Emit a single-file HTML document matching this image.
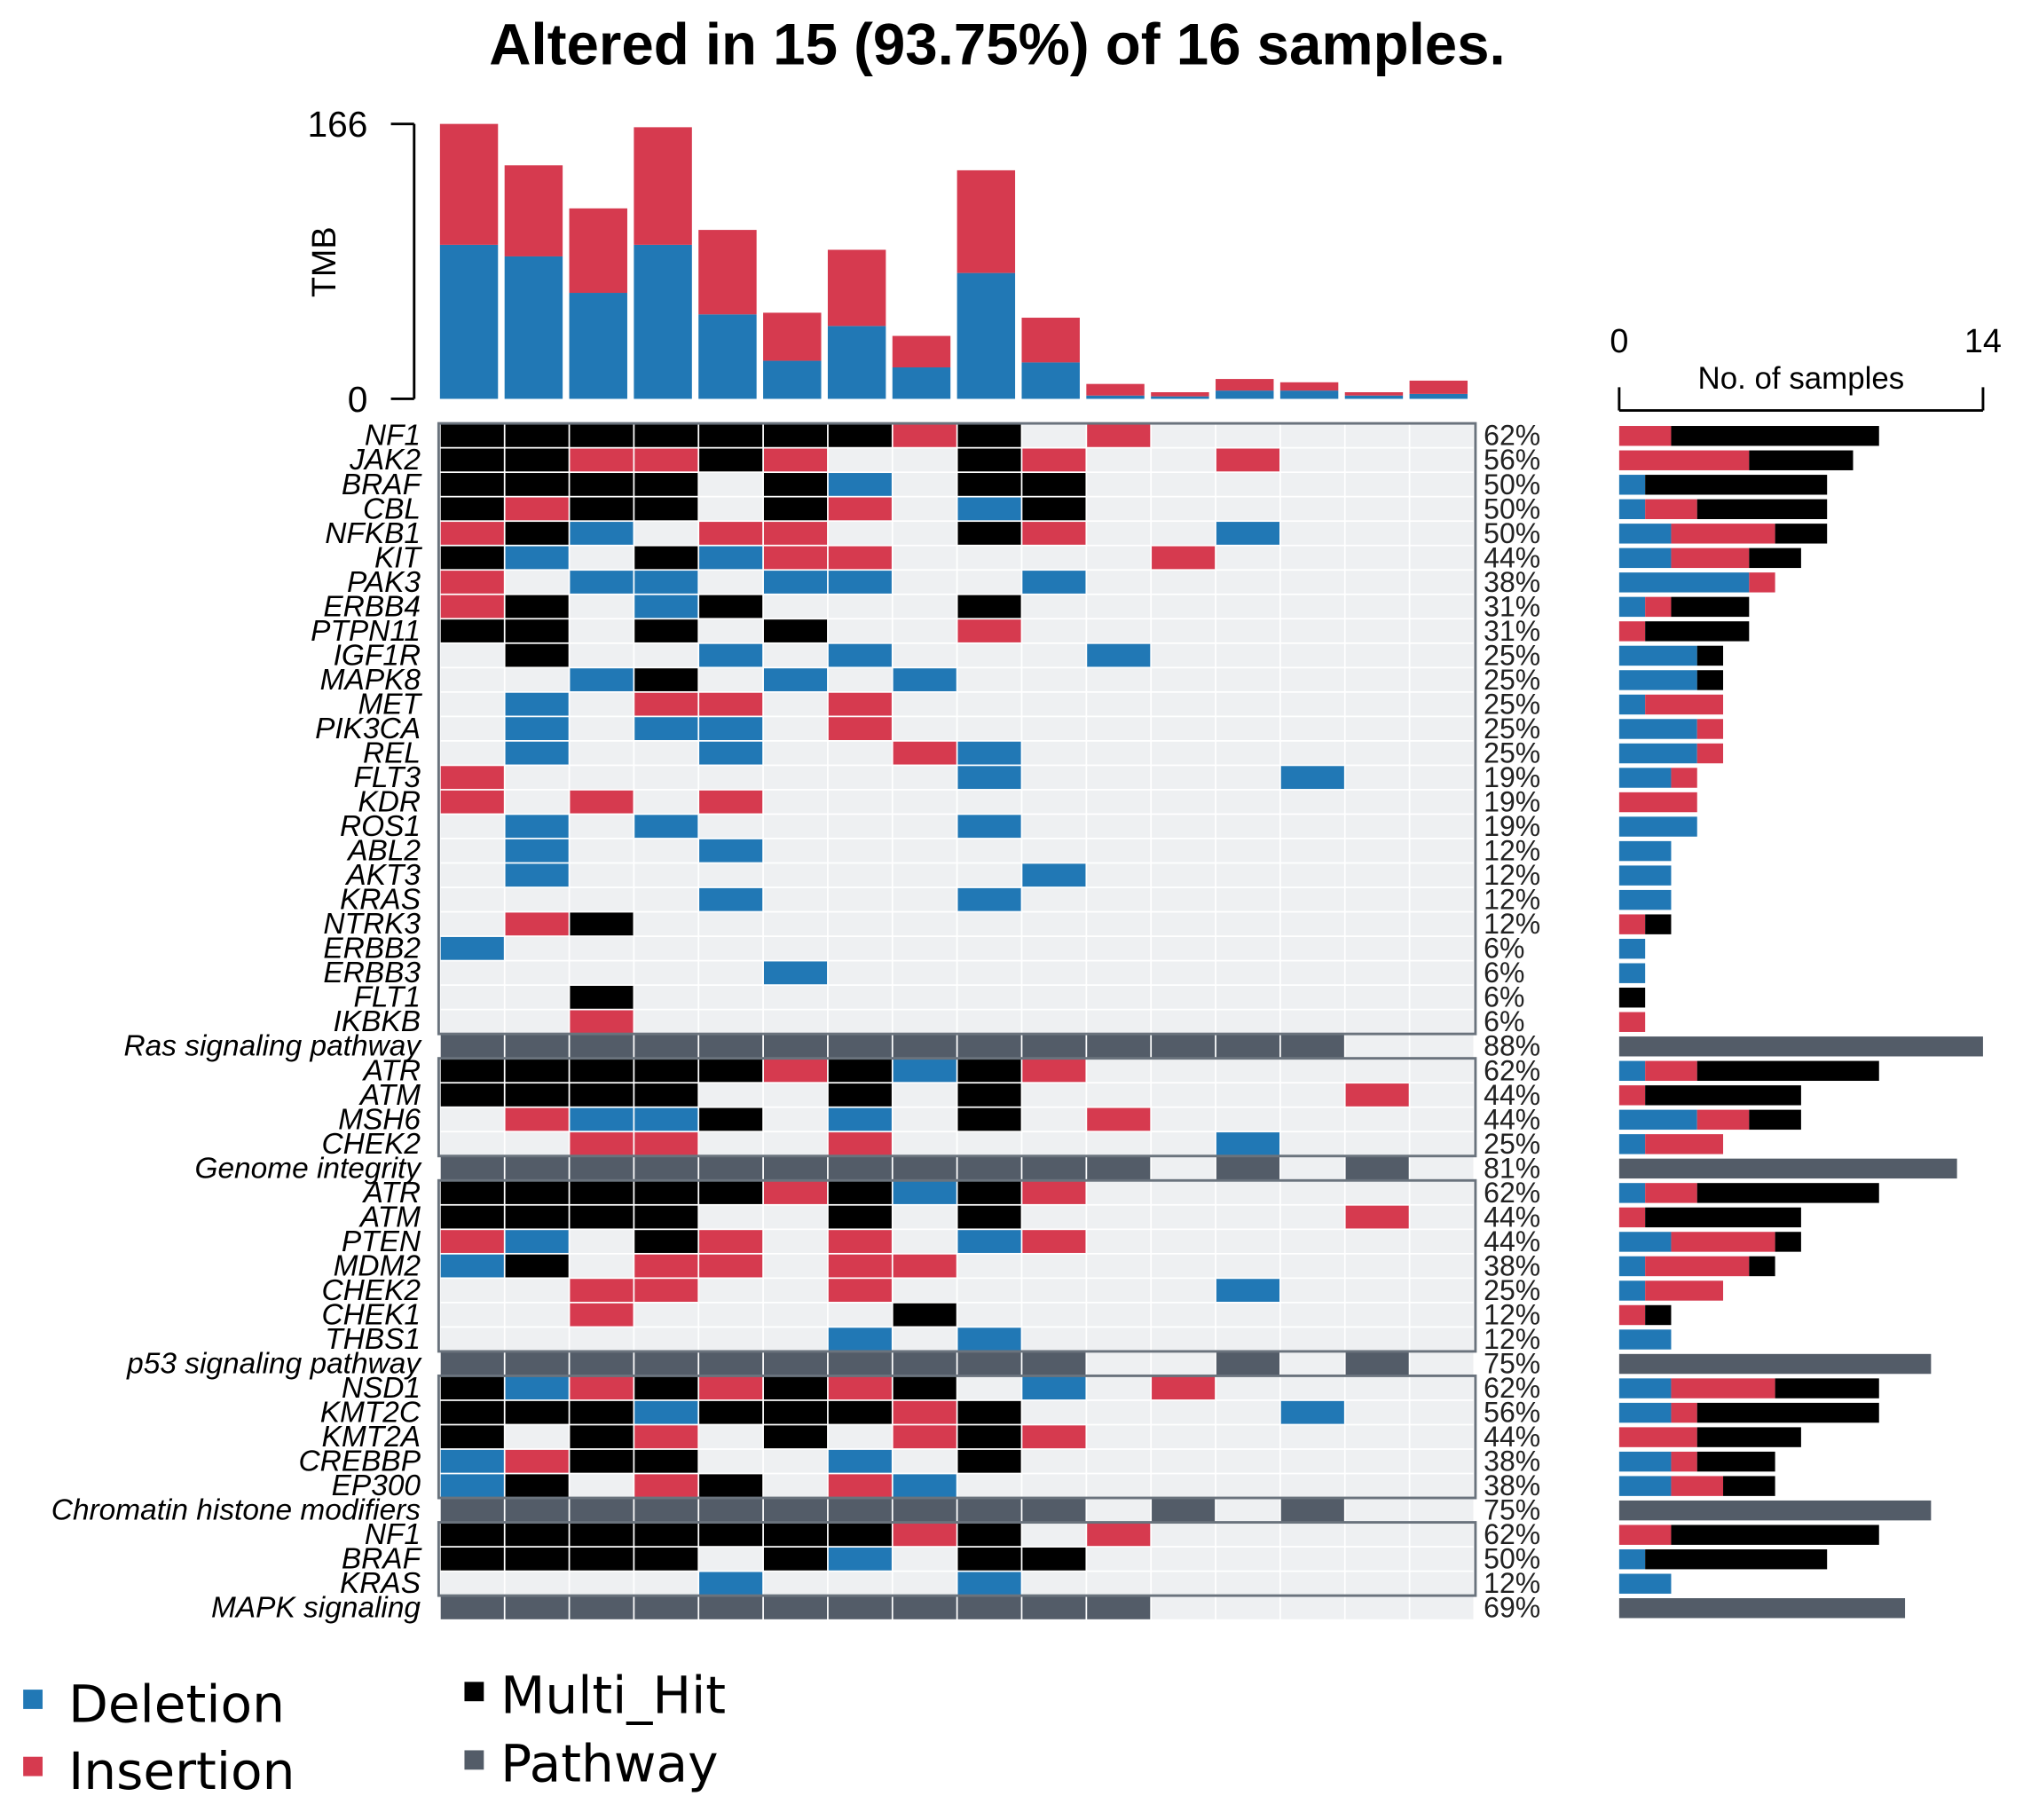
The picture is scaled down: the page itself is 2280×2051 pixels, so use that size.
<!DOCTYPE html>
<html><head><meta charset="utf-8"><style>
html,body{margin:0;padding:0;background:#fff;}
svg{display:block;font-family:"Liberation Sans",Arial,sans-serif;}
</style></head><body>
<svg id="chart" width="2280" height="2051" viewBox="0 0 1568 1410" preserveAspectRatio="none" xmlns="http://www.w3.org/2000/svg">
<text x="773" y="50" text-anchor="middle" font-size="45" font-weight="bold">Altered in 15 (93.75%) of 16 samples.</text>
<g id="tmb"></g><g id="matrix"></g><g id="side"></g>
<g>
<rect x="18" y="1309" width="15" height="15" fill="#2178b5"/>
<text x="53" y="1334" font-size="40" font-family="DejaVu Sans,sans-serif">Deletion</text>
<rect x="18" y="1361" width="15" height="15" fill="#d63a4f"/>
<text x="53" y="1386" font-size="40" font-family="DejaVu Sans,sans-serif">Insertion</text>
<rect x="360" y="1303" width="15" height="15" fill="#000"/>
<text x="388" y="1327" font-size="40" font-family="DejaVu Sans,sans-serif">Multi_Hit</text>
<rect x="360" y="1356" width="15" height="15" fill="#535c68"/>
<text x="388" y="1380" font-size="40" font-family="DejaVu Sans,sans-serif">Pathway</text>
</g>
</svg>
<script>
const genes=["NF1","JAK2","BRAF","CBL","NFKB1","KIT","PAK3","ERBB4","PTPN11","IGF1R","MAPK8","MET","PIK3CA","REL","FLT3","KDR","ROS1","ABL2","AKT3","KRAS","NTRK3","ERBB2","ERBB3","FLT1","IKBKB","Ras signaling pathway","ATR","ATM","MSH6","CHEK2","Genome integrity","ATR","ATM","PTEN","MDM2","CHEK2","CHEK1","THBS1","p53 signaling pathway","NSD1","KMT2C","KMT2A","CREBBP","EP300","Chromatin histone modifiers","NF1","BRAF","KRAS","MAPK signaling"];
const matrix=["MMMMMMMIM.I.....","MMIIMI..MI..I...","MMMM.MD.MM......","MIMM.MI.DM......","IMD.II..MI..D...","MD.MDII....I....","I.DD.DD..D......","IM.DM...M.......","MM.M.M..I.......",".M..D.D...D.....","..DM.D.D........",".D.II.I.........",".D.DD.I.........",".D..D..ID.......","I.......D....D..","I.I.I...........",".D.D....D.......",".D..D...........",".D.......D......","....D...D.......",".IM.............","D...............",".....D..........","..M.............","..I.............","PPPPPPPPPPPPPP..","MMMMMIMDMI......","MMMM..M.M.....I.",".IDDM.D.M.I.....","..II..I.....D...","PPPPPPPPPPP.P.P.","MMMMMIMDMI......","MMMM..M.M.....I.","ID.MI.I.DI......","DM.II.II........","..II..I.....D...","..I....M........","......D.D.......","PPPPPPPPPP..P.P.","MDIMIMIM.D.I....","MMMDMMMIM....D..","M.MI.M.IMI......","DIMM..D.M.......","DM.IM.ID........","PPPPPPPPPP.P.P..","MMMMMMMIM.I.....","MMMM.MD.MM......","....D...D.......","PPPPPPPPPPP....."];
const percents=["62%","56%","50%","50%","50%","44%","38%","31%","31%","25%","25%","25%","25%","25%","19%","19%","19%","12%","12%","12%","12%","6%","6%","6%","6%","88%","62%","44%","44%","25%","81%","62%","44%","44%","38%","25%","12%","12%","75%","62%","56%","44%","38%","38%","75%","62%","50%","12%","69%"];
const tmbDel=[93,86,64,93,51,23,44,19,76,22,2,1.5,5,5,2,3];
const tmbIns=[73,55,51,71,51,29,46,19,62,27,7,2.5,7,5,2,8];
const tmbTicks=[0,166];
const sideTicks=[0,14];
const groups=[[0,24],[26,29],[31,37],[39,43],[45,47]];
</script>
<script>
const NS="http://www.w3.org/2000/svg";
const COL={D:"#2178b5",I:"#d63a4f",M:"#000000",P:"#535c68"};
function mk(parent,tag,attrs){const e=document.createElementNS(NS,tag);for(const k in attrs)e.setAttribute(k,attrs[k]);parent.appendChild(e);return e;}
const X0=341,CW=50.1,Y0=328,RH=18.92;
const xCol=i=>X0+i*CW;
const yRow=r=>Y0+r*RH;
const yT=v=>309-v*(213/166);
const xS=v=>1255+v*(282/14);
const tmb=document.getElementById("tmb");
mk(tmb,"line",{x1:321,y1:yT(tmbTicks[1]),x2:321,y2:yT(0),stroke:"#000","stroke-width":2});
tmbTicks.forEach(t=>{const l=mk(tmb,"line",{x1:303,x2:321,y1:yT(t),y2:yT(t),stroke:"#000","stroke-width":2});


const tx=mk(tmb,"text",{x:285,y:yT(t)+10,"text-anchor":"end","font-size":28});tx.textContent=t;

});
const tl=mk(tmb,"text",{x:0,y:0,"font-size":26,"text-anchor":"middle",transform:"translate(260,203) rotate(-90)"});tl.textContent="TMB";


tmbDel.forEach((d,i)=>{const ins=tmbIns[i];
const b=mk(tmb,"rect",{x:xCol(i),y:yT(d),width:45,height:yT(0)-yT(d),fill:COL.D});


const r=mk(tmb,"rect",{x:xCol(i),y:yT(d+ins),width:45,height:yT(d)-yT(d+ins),fill:COL.I});

});
const mx=document.getElementById("matrix");
genes.forEach((g,r)=>{
const lb=mk(mx,"text",{x:326,y:yRow(r)+RH-2,"text-anchor":"end","font-size":23,"font-style":"italic"});lb.textContent=g;


const pc=mk(mx,"text",{x:1150,y:yRow(r)+RH-2,"font-size":22,fill:"#222"});pc.textContent=percents[r];


for(let c=0;c<16;c++){const ch=matrix[r][c];
const cell=mk(mx,"rect",{x:xCol(c)+0.6,y:yRow(r)+0.6,width:CW-1.2,height:RH-1.2,fill:ch==="."?"#eef0f2":COL[ch]});

}
const cnt={D:0,I:0,M:0,P:0};for(const ch of matrix[r])if(cnt[ch]!==undefined)cnt[ch]++;
let acc=0;["D","I","M","P"].forEach(k=>{if(!cnt[k])return;
const sb=mk(document.getElementById("side"),"rect",{x:xS(acc),y:yRow(r)+2,width:xS(acc+cnt[k])-xS(acc),height:RH-3.5,fill:COL[k]});


acc+=cnt[k];});
});
groups.forEach(([a,b])=>{const bx=mk(mx,"rect",{x:X0-1,y:yRow(a),width:16*CW+2,height:(b-a+1)*RH,fill:"none",stroke:"#6a737d","stroke-width":2});

});
const sd=document.getElementById("side");
mk(sd,"line",{x1:xS(sideTicks[0]),x2:xS(sideTicks[1]),y1:318,y2:318,stroke:"#000","stroke-width":2});
sideTicks.forEach(t=>{mk(sd,"line",{x1:xS(t),x2:xS(t),y1:300,y2:318,stroke:"#000","stroke-width":2});
const tx=mk(sd,"text",{x:xS(t),y:273,"text-anchor":"middle","font-size":26});tx.textContent=t;

});
const st=mk(sd,"text",{x:1396,y:301,"text-anchor":"middle","font-size":24});st.textContent="No. of samples";


</script>
</body></html>
